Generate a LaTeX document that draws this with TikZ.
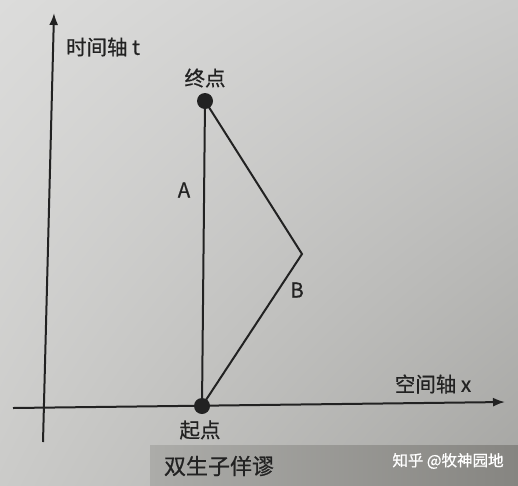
\documentclass[tikz,border=0pt]{standalone}
\usepackage{fontspec}
\setmainfont{Noto Sans CJK SC}
\newfontfamily\labfont[FakeBold=0.6]{Noto Sans CJK SC}
\usetikzlibrary{arrows.meta,shadings}
\definecolor{ink}{HTML}{222222}
\definecolor{bgUL}{RGB}{220,220,219}
\definecolor{bgUR}{RGB}{203,203,202}
\definecolor{bgLL}{RGB}{203,203,201}
\definecolor{bgLR}{RGB}{165,165,162}
\definecolor{bandL}{RGB}{172,172,169}
\definecolor{bandR}{RGB}{134,133,129}
\tikzset{
  ax/.style={line width=2pt, draw=ink, -{Latex[length=12pt,width=9pt]}},
  path line/.style={line width=2pt, draw=ink},
  dot/.style={circle, fill=ink, inner sep=0pt, minimum size=16pt},
  lab/.style={text=ink, font=\labfont\fontsize{20.5}{22}\selectfont, inner sep=0pt},
  captext/.style={text=ink, font=\labfont\fontsize{22}{24}\selectfont, inner sep=0pt},
  mark text/.style={text=white, font=\labfont\fontsize{15.5}{17}\selectfont, inner sep=0pt}
}
\begin{document}
\begin{tikzpicture}[x=1pt,y=-1pt]
  \useasboundingbox (0,0) rectangle (518,485);
  \shade[upper left=bgUL, upper right=bgUR, lower left=bgLL, lower right=bgLR]
    (0,0) rectangle (518,485);
  \shade[left color=bandL, right color=bandR]
    (150,445) rectangle (518,485);

  % axes
  \coordinate (tTail) at (43,442);
  \coordinate (tTip) at (54,13);
  \coordinate (xTail) at (13,408);
  \coordinate (xTip) at (505,402);
  \draw[ax] (tTail) -- (tTip);
  \draw[ax] (xTail) -- (xTip);

  % world lines
  \node[dot] (start) at (202,406) {};
  \node[dot] (end) at (205,101) {};
  \coordinate (turn) at (302,254);
  \draw[path line] (start.center) -- (end.center);
  \draw[path line, line join=miter] (start.center) -- (turn) -- (end.center);

  % labels
  \node[lab] (tlabel) at (103,47) {时间轴 t};
  \node[lab] (endlabel) at (205,78) {终点};
  \node[lab] (alabel) at (184,190) {A};
  \node[lab] (blabel) at (297,290) {B};
  \node[lab] (xlabel) at (433,384) {空间轴 x};
  \node[lab] (startlabel) at (200,430) {起点};
  \node[captext] (caption) at (219,466) {双生子佯谬};
  \node[mark text] (wm) at (448,461) {知乎 @牧神园地};
\end{tikzpicture}
\end{document}
